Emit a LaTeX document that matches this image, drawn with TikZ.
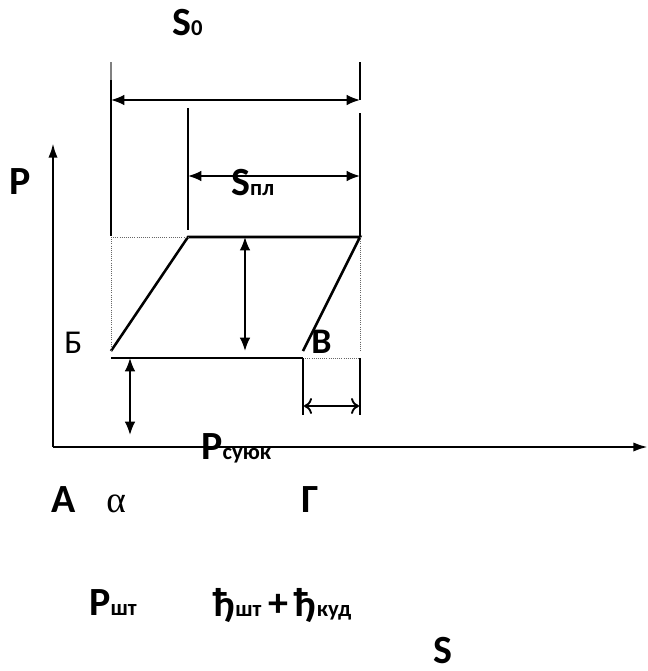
\documentclass[tikz,border=0pt]{standalone}
\usepackage{fontspec}
\setmainfont{Carlito}
\newfontfamily\greekfont{Liberation Serif}
\usetikzlibrary{arrows.meta}
\newcommand{\lowidx}[1]{{\fontsize{17}{19}\selectfont #1}}
\tikzset{
  lbl/.style={font=\bfseries\fontsize{30}{34}\selectfont,inner sep=0pt,anchor=base west},
  guide/.style={line width=0.6pt,densely dotted,black!60},
  dimline/.style={line width=1.4pt,{Latex[length=10pt,width=8pt]}-{Latex[length=10pt,width=8pt]}},
}
\begin{document}
\begin{tikzpicture}[x=0.75pt,y=-0.75pt,line width=1.9pt]
		\useasboundingbox (0,0) rectangle (648,671);
		% points of the diagram
		\coordinate (O) at (53,447);
		\coordinate (B) at (111,351);
		\coordinate (C) at (188,237);
		\coordinate (D) at (360,237);
		\coordinate (E) at (303,351);
		\coordinate (F) at (303,358);
		\coordinate (G) at (360,358);
		% axes
		\draw[-{Latex[length=11pt,width=7pt]}] (O)--(53,143);
		\draw[-{Latex[length=11pt,width=7pt]}] (O)--(648,447);
		% extension lines
		\draw[line width=0.8pt,black!50] (111,62)--(111,80);
		\draw (111,80)--(111,236);
		\draw (360,62)--(360,100);
		\draw (360,113)--(360,236);
		\draw (188,108)--(188,230);
		\draw[dimline] (111,100)--(360,100);
		\draw[dimline] (188,176)--(360,176);
		% the cycle
		\draw (B)--(C)--(D)--(E);
		\draw (111,358)--(F);
		\draw[guide] (111,237)--(C);
		\draw[guide] (111,237)--(B);
		\draw[guide] (D)--(360,351);
		\draw[guide] (F)--(G);
		\draw[dimline] (245,237)--(245,351);
		\draw[dimline] (130,358)--(130,435);
		\draw (F)--(303,415);
		\draw (G)--(360,415);
		\draw[line width=1.4pt,{To[length=6pt,width=12pt]}-{To[length=6pt,width=12pt]}] (304,406)--(359,406);
		% labels
		\node[lbl] (s0) at (171,36) {S\lowidx{0}};
		\node[lbl] (p) at (8,194) {P};
		\node[lbl] (spl) at (230,195) {S\lowidx{пл}};
		\node[lbl,font=\fontsize{25}{28}\selectfont] (b) at (63,353) {Б};
		\node[lbl,font=\bfseries\fontsize{27}{30}\selectfont] (v) at (310,353) {В};
		\node[lbl] (psuyuk) at (200,459) {P\lowidx{суюк}};
		\node[lbl] (a) at (50,512) {А};
		\node[lbl,font=\greekfont\fontsize{28}{32}\selectfont] (al) at (105,512) {α};
		\node[lbl] (g) at (300,512) {Г};
		\node[lbl] (psht) at (88,615) {P\lowidx{шт}};
		\node[lbl] (hh) at (212,616) {ђ\lowidx{шт}\,+\,ђ\lowidx{куд}};
		\node[lbl] (s) at (432,663) {S};
\end{tikzpicture}
\end{document}
